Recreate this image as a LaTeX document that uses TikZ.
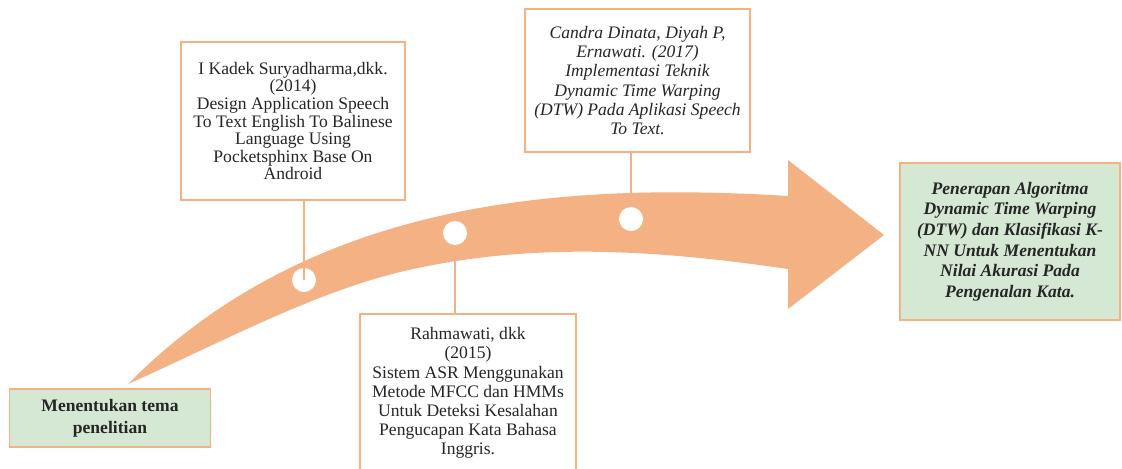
\documentclass[tikz,border=0pt]{standalone}
\usepackage{fontspec}
\setmainfont{Liberation Serif}
\definecolor{salmon}{HTML}{F4B183}
\definecolor{mint}{HTML}{D5E8D4}
\tikzset{
  box/.style={draw=salmon, line width=0.7pt, inner sep=0pt, outer sep=0pt,
    align=center, text=black!85},
  refbox/.style={box, fill=white},
  goalbox/.style={box, fill=mint},
  dot/.style={circle, fill=white, minimum size=0.48cm, inner sep=0pt},
  link/.style={draw=salmon, line width=1pt}
}
\begin{document}
\begin{tikzpicture}[x=0.02cm, y=-0.02cm]
      \clip (0,0) rectangle (1122,468);
      \fill[white] (0,0) rectangle (1122,468);
      \coordinate (p1) at (304,280);
      \coordinate (p2) at (455,233);
      \coordinate (p3) at (631,219);
      % boxes
      \node[goalbox, minimum width=4.02cm, minimum height=1.16cm,
        font=\fontsize{10}{12.5}\selectfont\bfseries] (tema) at (110,418)
        {Menentukan tema\\penelitian};
      \node[refbox, minimum width=4.48cm, minimum height=3.16cm,
        font=\fontsize{10}{10}\selectfont] (ref1) at (293,121)
        {I Kadek Suryadharma,dkk.\\(2014)\\Design Application Speech\\To Text English To Balinese\\Language Using\\Pocketsphinx Base On\\Android};
      \node[refbox, minimum width=4.5cm, minimum height=2.86cm,
        font=\fontsize{10}{10.9}\selectfont\itshape] (ref3) at (637.5,80.5)
        {Candra Dinata, Diyah P,\\Ernawati. (2017)\\Implementasi Teknik\\Dynamic Time Warping\\(DTW) Pada Aplikasi Speech\\To Text.};
      \node[refbox, minimum width=4.32cm, minimum height=3.16cm,
        font=\fontsize{10}{10.9}\selectfont] (ref2) at (468,393)
        {Rahmawati, dkk\\(2015)\\Sistem ASR Menggunakan\\Metode MFCC dan HMMs\\Untuk Deteksi Kesalahan\\Pengucapan Kata Bahasa\\Inggris.};
      \node[goalbox, minimum width=4.4cm, minimum height=3.14cm,
        font=\fontsize{10}{11.7}\selectfont\bfseries\itshape] (tujuan) at (1010,241.5)
        {Penerapan Algoritma\\Dynamic Time Warping\\(DTW) dan Klasifikasi K-\\NN Untuk Menentukan\\Nilai Akurasi Pada\\Pengenalan Kata.};
      % connectors under the arrow
      \draw[link] (ref3.south -| p3) -- (p3);
      \draw[link] (ref2.north -| p2) -- (p2);
      % curved arrow
      \fill[salmon] (128,384) .. controls (310,200) and (560,182) .. (788,196)
        -- (788,160) -- (884,235) -- (788,309) -- (788,269)
        .. controls (658,250) and (530,241) .. (400,272)
        .. controls (310,294) and (218,344) .. (128,384) -- cycle;
      \node[dot] (dot1) at (p1) {};
      \node[dot] (dot2) at (p2) {};
      \node[dot] (dot3) at (p3) {};
      \draw[link] (ref1.south -| dot1) -- (dot1.center);
\end{tikzpicture}
\end{document}
